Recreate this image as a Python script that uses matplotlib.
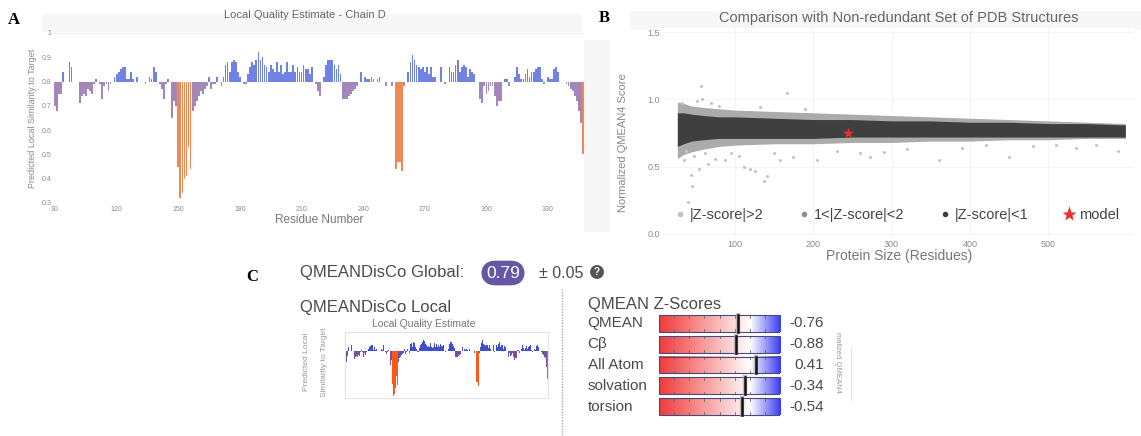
import numpy as np
import matplotlib
matplotlib.use('Agg')
import matplotlib.pyplot as plt
from matplotlib.colors import LinearSegmentedColormap, Normalize
from matplotlib.lines import Line2D
from matplotlib.patches import Rectangle
import matplotlib.transforms as mtransforms

plt.rcParams['font.family'] = ['Liberation Sans', 'DejaVu Sans']

# ---------------- data ----------------
first_residue = 90
local_scores = [
    0.70, 0.68, 0.75, 0.75, 0.84, 0.80, 0.80, 0.88, 0.86, 0.80,   # 90-99
    0.80, 0.80, 0.71, 0.74, 0.75, 0.74, 0.77, 0.76, 0.75, 0.79,   # 100-109
    0.81, 0.80, 0.79, 0.73, 0.78, 0.79, 0.76, 0.79, 0.80, 0.82,   # 110-119
    0.83, 0.84, 0.85, 0.86, 0.86, 0.81, 0.81, 0.84, 0.81, 0.80,   # 120-129
    0.82, 0.80, 0.80, 0.80, 0.79, 0.80, 0.82, 0.81, 0.86, 0.84,   # 130-139
    0.80, 0.79, 0.77, 0.73, 0.79, 0.81, 0.80, 0.65, 0.72, 0.70,   # 140-149
    0.45, 0.32, 0.34, 0.40, 0.41, 0.53, 0.44, 0.68, 0.70, 0.72,   # 150-159
    0.74, 0.76, 0.75, 0.77, 0.78, 0.82, 0.77, 0.79, 0.79, 0.82,   # 160-169
    0.80, 0.78, 0.82, 0.87, 0.88, 0.84, 0.88, 0.89, 0.88, 0.84,   # 170-179
    0.82, 0.80, 0.79, 0.79, 0.83, 0.86, 0.88, 0.87, 0.89, 0.92,   # 180-189
    0.89, 0.90, 0.87, 0.86, 0.84, 0.87, 0.85, 0.84, 0.88, 0.84,   # 190-199
    0.87, 0.83, 0.84, 0.88, 0.84, 0.84, 0.87, 0.84, 0.86, 0.84,   # 200-209
    0.84, 0.87, 0.85, 0.85, 0.83, 0.86, 0.80, 0.79, 0.76, 0.74,   # 210-219
    0.80, 0.82, 0.87, 0.89, 0.89, 0.89, 0.87, 0.85, 0.87, 0.83,   # 220-229
    0.73, 0.73, 0.73, 0.74, 0.75, 0.76, 0.77, 0.78, 0.80, 0.84,   # 230-239
    0.80, 0.82, 0.81, 0.81, 0.82, 0.81, 0.80, 0.81, 0.82, 0.80,   # 240-249
    0.80, 0.78, 0.80, 0.80, 0.78, 0.80, 0.44, 0.47, 0.47, 0.43,   # 250-259
    0.78, 0.80, 0.84, 0.88, 0.91, 0.89, 0.87, 0.86, 0.85, 0.86,   # 260-269
    0.84, 0.86, 0.83, 0.86, 0.82, 0.82, 0.80, 0.80, 0.86, 0.80,   # 270-279
    0.79, 0.80, 0.86, 0.84, 0.84, 0.87, 0.89, 0.84, 0.86, 0.87,   # 280-289
    0.86, 0.82, 0.85, 0.84, 0.83, 0.80, 0.80, 0.73, 0.71, 0.78,   # 290-299
    0.75, 0.76, 0.78, 0.78, 0.74, 0.70, 0.72, 0.72, 0.80, 0.81,   # 300-309
    0.81, 0.78, 0.80, 0.80, 0.82, 0.86, 0.83, 0.81, 0.81, 0.83,   # 310-319
    0.85, 0.82, 0.84, 0.84, 0.85, 0.86, 0.86, 0.81, 0.79, 0.80,   # 320-329
    0.82, 0.81, 0.81, 0.85, 0.86, 0.84, 0.80, 0.80, 0.80, 0.79,   # 330-339
    0.78, 0.77, 0.76, 0.74, 0.72, 0.68, 0.63, 0.50,               # 340-347
]
residues = np.arange(first_residue, first_residue + len(local_scores))
residue_ticks = [90, 120, 150, 180, 210, 240, 270, 300, 330]
score_ticks = [0.3, 0.4, 0.5, 0.6, 0.7, 0.8, 0.9, 1.0]
score_tick_labels = ['0.3', '0.4', '0.5', '0.6', '0.7', '0.8', '0.9', '1']

# Panel B: envelopes of the reference point cloud
cloud_size = [27, 35, 45, 60, 80, 100, 150, 200, 250, 300, 350, 400, 450, 500, 550, 598]
dark_hi = [0.90, 0.90, 0.89, 0.88, 0.87, 0.87, 0.86, 0.85, 0.85, 0.84, 0.84, 0.83, 0.83, 0.82, 0.82, 0.81]
dark_lo = [0.65, 0.67, 0.69, 0.70, 0.71, 0.71, 0.71, 0.71, 0.72, 0.72, 0.72, 0.72, 0.72, 0.72, 0.72, 0.72]
mid_hi = [0.98, 0.97, 0.95, 0.94, 0.93, 0.92, 0.91, 0.90, 0.89, 0.88, 0.87, 0.86, 0.85, 0.84, 0.83, 0.82]
mid_lo = [0.56, 0.59, 0.61, 0.63, 0.65, 0.66, 0.67, 0.67, 0.68, 0.68, 0.69, 0.69, 0.70, 0.70, 0.71, 0.71]
outlier_size = [33, 36, 38, 41, 44, 46, 48, 52, 55, 57, 58, 62, 66, 70, 75, 80, 88, 95, 105,
                112, 120, 126, 132, 138, 141, 150, 158, 167, 175, 190, 205, 230, 260, 272,
                290, 320, 361, 390, 420, 450, 480, 510, 535, 560, 589]
outlier_score = [0.97, 0.55, 0.62, 0.24, 0.44, 0.36, 0.58, 0.99, 0.48, 1.10, 1.00, 0.60, 0.52,
                 0.97, 0.56, 0.95, 0.55, 0.60, 0.58, 0.50, 0.48, 0.47, 0.94, 0.39, 0.43, 0.60,
                 0.55, 1.05, 0.57, 0.93, 0.55, 0.62, 0.60, 0.57, 0.61, 0.63, 0.55, 0.64, 0.66,
                 0.57, 0.65, 0.66, 0.64, 0.66, 0.62]
model_size = 245
model_score = 0.75
size_ticks = [100, 200, 300, 400, 500]
norm_ticks = [0.0, 0.5, 1.0, 1.5]

# Panel C
global_score = '0.79'
global_err = '0.05'
z_names = ['QMEAN', 'Cβ', 'All Atom', 'solvation', 'torsion']
z_values = [-0.76, -0.88, 0.41, -0.34, -0.54]
z_range = (-6, 2)

# ---------------- figure ----------------
W, H = 1141, 436
fig = plt.figure(figsize=(W / 100, H / 100), dpi=100)
fig.patch.set_facecolor('white')


def add_ax(x0, y0, x1, y1, **kw):
    return fig.add_axes([x0 / W, 1 - y1 / H, (x1 - x0) / W, (y1 - y0) / H], **kw)


def fx(x):
    return x / W


def fy(y):
    return 1 - y / H


def frect(x0, y0, x1, y1, color):
    fig.patches.append(Rectangle((fx(x0), fy(y1)), (x1 - x0) / W, (y1 - y0) / H,
                                 transform=fig.transFigure, facecolor=color,
                                 edgecolor='none', zorder=-5))


# faint screenshot backgrounds
frect(42, 14, 582, 32, '#f7f7f7')
frect(584, 40, 610, 232, '#f7f7f7')
frect(630, 11, 1141, 30, '#f7f7f7')

serif = ['Liberation Serif', 'DejaVu Serif']
fig.text(fx(14), fy(20), 'A', fontsize=12, fontweight='bold', family=serif, ha='center', va='center')
fig.text(fx(604), fy(18), 'B', fontsize=12, fontweight='bold', family=serif, ha='center', va='center')
fig.text(fx(252), fy(277), 'C', fontsize=12, fontweight='bold', family=serif, ha='center', va='center')

# ---------- Panel A ----------
cmapA = LinearSegmentedColormap.from_list('lq', [
    (0.0, '#f4864e'), (0.40, '#f1895c'), (0.47, '#a684b0'),
    (0.70, '#a08ac0'), (0.715, '#7384e2'), (1.0, '#6a7ee4')])
normA = Normalize(0.3, 1.0)
axA = add_ax(54, 33, 584, 203)
vals = np.array(local_scores)
axA.bar(residues, vals - 0.8, bottom=0.8, width=0.86,
        color=[cmapA(normA(v)) for v in vals], linewidth=0)
axA.set_xlim(first_residue - 0.5, residues[-1] + 0.5)
axA.set_ylim(0.3, 1.0)
axA.set_xticks(residue_ticks)
axA.set_yticks(score_ticks)
axA.set_yticklabels(score_tick_labels)
axA.tick_params(length=0, labelsize=5, labelcolor='#8a8a8a', pad=2)
for s in axA.spines.values():
    s.set_visible(False)
axA.axhline(1.0, color='#eeeeee', lw=0.8, zorder=0)
fig.text(fx(305), fy(15), 'Local Quality Estimate - Chain D', fontsize=8, color='#666666',
         ha='center', va='center')
axA.set_xlabel('Residue Number', fontsize=8.5, color='#777777', labelpad=1)
axA.set_ylabel('Predicted Local Similarity to Target', fontsize=6.5, color='#888888', labelpad=3)

# ---------- Panel B ----------
axB = add_ax(664, 28, 1134, 236)
axB.fill_between(cloud_size, mid_lo, mid_hi, color='#ababab', linewidth=0, zorder=1)
axB.fill_between(cloud_size, dark_lo, dark_hi, color='#3f3f3f', linewidth=0, zorder=2)
axB.scatter(outlier_size, outlier_score, s=5, color='#c4c4c4', linewidths=0, zorder=1)
axB.scatter([model_size], [model_score], marker='*', s=70, color='#e8302e', linewidths=0, zorder=4)
axB.set_xlim(10, 609)
axB.set_ylim(-0.015, 1.53)
axB.set_xticks(size_ticks)
axB.set_yticks(norm_ticks)
axB.set_yticklabels(['0.0', '0.5', '1.0', '1.5'])
axB.tick_params(length=0, labelsize=6.5, labelcolor='#8a8a8a', pad=3)
for s in axB.spines.values():
    s.set_visible(False)
axB.grid(True, color='#f2f2f2', lw=0.6)
axB.set_axisbelow(True)
axB.set_title('Comparison with Non-redundant Set of PDB Structures', fontsize=10.5, color='#666666', pad=4)
axB.set_xlabel('Protein Size (Residues)', fontsize=10, color='#777777', labelpad=0)
axB.set_ylabel('Normalized QMEAN4 Score', fontsize=8, color='#888888')
axB.yaxis.set_label_coords(-0.077, 0.45)
handles = [
    Line2D([], [], ls='none', marker='o', ms=4, mfc='#c4c4c4', mec='none', label='|Z-score|>2'),
    Line2D([], [], ls='none', marker='o', ms=4, mfc='#8d8d8d', mec='none', label='1<|Z-score|<2'),
    Line2D([], [], ls='none', marker='o', ms=4, mfc='#3f3f3f', mec='none', label='|Z-score|<1'),
    Line2D([], [], ls='none', marker='*', ms=11, mfc='#e8302e', mec='none', label='model'),
]
axB.legend(handles=handles, loc='center left', bbox_to_anchor=(0.01, 0.1), ncol=4,
           frameon=False, fontsize=10.5, labelcolor='#444444', handletextpad=0.25,
           columnspacing=2.4, handlelength=0.8, borderaxespad=0)

# ---------- Panel C ----------
txtC = '#4a4a4a'
fig.text(fx(300), fy(273), 'QMEANDisCo Global:', fontsize=12, color=txtC, va='center')
fig.text(fx(503), fy(273), global_score, fontsize=12.5, color='white', va='center', ha='center',
         bbox=dict(boxstyle='round,pad=0.28,rounding_size=0.85', fc='#6656a6', ec='none'))
fig.text(fx(539), fy(273), '± ' + global_err, fontsize=11.5, color=txtC, va='center')
fig.text(fx(597), fy(272), '?', fontsize=7, color='white', va='center', ha='center', fontweight='bold',
         bbox=dict(boxstyle='circle,pad=0.2', fc='#555555', ec='none'))
fig.text(fx(300), fy(307), 'QMEANDisCo Local', fontsize=12, color=txtC, va='center')

cmapC = LinearSegmentedColormap.from_list('lqc', [
    (0.0, '#ff5512'), (0.40, '#ff5a18'), (0.47, '#7d4e9c'),
    (0.70, '#6e52a8'), (0.715, '#4050d4'), (1.0, '#3a4ad8')])
axC = add_ax(345, 332, 548, 398)
axC.bar(residues, vals - 0.8, bottom=0.8, width=1.0,
        color=[cmapC(normA(v)) for v in vals], linewidth=0)
axC.set_xlim(first_residue - 0.5, residues[-1] + 0.5)
axC.set_ylim(0.3, 1.0)
axC.set_xticks([])
axC.set_yticks([])
for s in axC.spines.values():
    s.set_color('#e2e2e2')
    s.set_linewidth(0.8)
fig.text(fx(424), fy(324), 'Local Quality Estimate', fontsize=7.5, color='#777777', ha='center', va='center')
fig.text(fx(307), fy(362), 'Predicted Local', fontsize=6, color='#999999', rotation=90, ha='center', va='center')
fig.text(fx(324), fy(362), 'Similarity to Target', fontsize=6, color='#999999', rotation=90, ha='center', va='center')

# separator
fig.add_artist(Line2D([fx(562), fx(562)], [fy(289), fy(436)], transform=fig.transFigure,
                      color='#aaaaaa', lw=1.0, ls=(0, (1, 1))))

# Z-scores
fig.text(fx(588), fy(305), 'QMEAN Z-Scores', fontsize=12, color=txtC, va='center')
axZ = add_ax(659, 313, 780, 417)
axZ.set_xlim(*z_range)
axZ.set_ylim(len(z_names) - 0.5, -0.5)
axZ.axis('off')
cmapZ = LinearSegmentedColormap.from_list('z', [
    (0.0, '#f03a3a'), (0.75, '#ffffff'), (1.0, '#3a3af2')])
grad = np.linspace(0, 1, 256).reshape(1, -1)
half = 0.40
trans_lab = mtransforms.blended_transform_factory(axZ.transAxes, axZ.transData)
for i, (name, z) in enumerate(zip(z_names, z_values)):
    axZ.imshow(grad, cmap=cmapZ, extent=(z_range[0], z_range[1], i + half, i - half),
               aspect='auto', interpolation='bilinear', zorder=1)
    axZ.add_patch(Rectangle((z_range[0], i - half), z_range[1] - z_range[0], 2 * half,
                            fill=False, edgecolor='#4a4a78', lw=0.8, zorder=3))
    for t in range(z_range[0] + 1, z_range[1]):
        axZ.plot([t, t], [i - half, i - half + 0.12], color='#666666', lw=0.6, zorder=2)
        axZ.plot([t, t], [i + half, i + half - 0.12], color='#666666', lw=0.6, zorder=2)
    axZ.plot([z, z], [i - half, i + half], color='#aaaaaa', lw=3.2, zorder=4, alpha=0.7)
    axZ.plot([z, z], [i - half, i + half], color='#111111', lw=1.8, zorder=5)
    axZ.text(-0.59, i, name, transform=trans_lab, fontsize=11, color=txtC, va='center', ha='left')
    axZ.text(1.36, i, f'{z:.2f}', transform=trans_lab, fontsize=11, color=txtC, va='center', ha='right')

fig.text(fx(837), fy(362), 'malized QMEAN4', fontsize=5.5, color='#999999', rotation=270, ha='center', va='center')
fig.add_artist(Line2D([fx(851), fx(851)], [fy(347), fy(400)], transform=fig.transFigure,
                      color='#e6e6e6', lw=0.8))

fig.savefig('out.png', dpi=100, facecolor='white')
